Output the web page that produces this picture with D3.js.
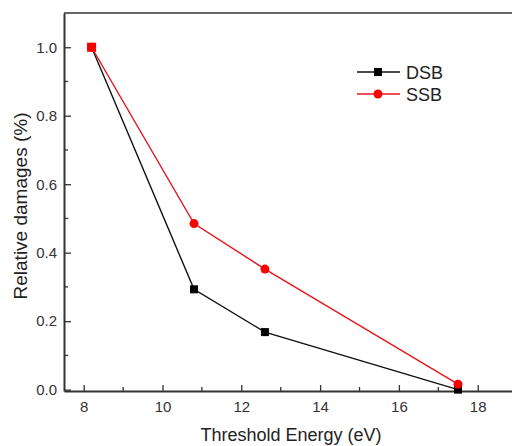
<!DOCTYPE html>
<html>
<head>
<meta charset="utf-8">
<script src="https://cdn.jsdelivr.net/npm/d3@7"></script>
<style>
  body { margin: 0; background: #fff; }
  svg { display: block; font-family: "Liberation Sans", Arial, sans-serif; }
</style>
</head>
<body>
<div id="chart"></div>
<script>
// data
var energy = [8.2, 10.8, 12.6, 17.5];
var dsb = [1.0, 0.293, 0.168, 0.0];
var ssb = [1.0, 0.485, 0.352, 0.016];
var xTicks = [8, 10, 12, 14, 16, 18];
var yTicks = [0.0, 0.2, 0.4, 0.6, 0.8, 1.0];

var width = 512, height = 446;
var margin = {left: 64, top: 13, bottom: 55};

var svg = d3.select("#chart").append("svg")
  .attr("width", width)
  .attr("height", height);

//scales (right edge of the frame sits just past the picture)
var x = d3.scaleLinear().domain([7.5, 19]).range([margin.left, margin.left + 11.5 * 39.4]);
var y = d3.scaleLinear().domain([-0.004, 1.1]).range([height - margin.bottom, margin.top]);

var axisColor = "#333";

//frame top line
svg.append("line")
  .attr("x1", x(7.5)).attr("x2", width)
  .attr("y1", y(1.1)).attr("y2", y(1.1))
  .style("stroke", "#666").style("stroke-width", 2);

//x axis, ticks pointing in
var xAxis = svg.append("g")
  .attr("transform", "translate(0," + y.range()[0] + ")")
  .call(d3.axisBottom(x).tickValues(xTicks).tickSizeInner(-6).tickSizeOuter(0).tickPadding(10).tickFormat(d3.format("d")));
xAxis.selectAll(".tick line").attr("stroke", axisColor).attr("stroke-width", 1.3);
xAxis.select(".domain").attr("stroke", axisColor).attr("stroke-width", 2);
xAxis.selectAll("text").attr("fill", "#333").style("font-size", "15px");
xAxis.selectAll(".minor").data(d3.range(9, 19, 2)).enter().append("line")
  .attr("x1", function(d) { return x(d); }).attr("x2", function(d) { return x(d); })
  .attr("y1", 0).attr("y2", -4)
  .attr("stroke", axisColor).attr("stroke-width", 1.3);

//y axis
var yAxis = svg.append("g")
  .attr("transform", "translate(" + margin.left + ",0)")
  .call(d3.axisLeft(y).tickValues(yTicks).tickSizeInner(-7).tickSizeOuter(0).tickPadding(7).tickFormat(d3.format(".1f")));
yAxis.selectAll(".tick line").attr("stroke", axisColor).attr("stroke-width", 1.3);
yAxis.select(".domain").attr("stroke", axisColor).attr("stroke-width", 2);
yAxis.selectAll("text").attr("fill", "#333").style("font-size", "15px");
yAxis.selectAll(".minor").data([0.1, 0.3, 0.5, 0.7, 0.9]).enter().append("line")
  .attr("x1", 0).attr("x2", 4)
  .attr("y1", function(d) { return y(d); }).attr("y2", function(d) { return y(d); })
  .attr("stroke", axisColor).attr("stroke-width", 1.3);

//axis titles
svg.append("text")
  .attr("x", 291).attr("y", 441)
  .attr("text-anchor", "middle")
  .style("font-size", "18px").style("fill", "#222")
  .text("Threshold Energy (eV)");
svg.append("text")
  .attr("transform", "translate(27,206) rotate(-90)")
  .attr("text-anchor", "middle")
  .style("font-size", "19px").style("fill", "#222")
  .text("Relative damages (%)");

var line = d3.line()
  .x(function(d) { return x(d[0]); })
  .y(function(d) { return y(d[1]); });

var dsbPts = d3.zip(energy, dsb);
var ssbPts = d3.zip(energy, ssb);

//DSB series
svg.append("path").datum(dsbPts)
  .attr("d", line).attr("fill", "none")
  .attr("stroke", "#111").attr("stroke-width", 1.4);
svg.selectAll(".dsb").data(dsbPts).enter().append("rect")
  .attr("x", function(d) { return x(d[0]) - 4; })
  .attr("y", function(d) { return y(d[1]) - 4; })
  .attr("width", 8).attr("height", 8)
  .attr("fill", "#000");

//SSB series
svg.append("path").datum(ssbPts)
  .attr("d", line).attr("fill", "none")
  .attr("stroke", "#e8141a").attr("stroke-width", 1.4);
svg.selectAll(".ssb").data(ssbPts).enter().append("circle")
  .attr("cx", function(d) { return x(d[0]); })
  .attr("cy", function(d) { return y(d[1]); })
  .attr("r", 4.5)
  .attr("fill", "#f00");

//first point shows as a red square on top
svg.append("rect")
  .attr("x", x(energy[0]) - 4.5).attr("y", y(ssb[0]) - 4.5)
  .attr("width", 9).attr("height", 9)
  .attr("fill", "#f00");

//legend
var legend = svg.append("g");
var legendItems = [
  {name: "DSB", color: "#111", marker: "square"},
  {name: "SSB", color: "#e8141a", marker: "circle"}
];
legendItems.forEach(function(item, i) {
  var ly = 72 + i * 22;
  legend.append("line")
    .attr("x1", 357).attr("x2", 400)
    .attr("y1", ly).attr("y2", ly)
    .attr("stroke", item.color).attr("stroke-width", 1.4);
  if (item.marker == "square") {
    legend.append("rect")
      .attr("x", 374).attr("y", ly - 4).attr("width", 8).attr("height", 8)
      .attr("fill", "#000");
  } else {
    legend.append("circle")
      .attr("cx", 378).attr("cy", ly).attr("r", 4.5)
      .attr("fill", "#f00");
  }
  legend.append("text")
    .attr("x", 406).attr("y", ly + 6.5)
    .style("font-size", "18px").style("fill", "#222")
    .text(item.name);
});
</script>
</body>
</html>
